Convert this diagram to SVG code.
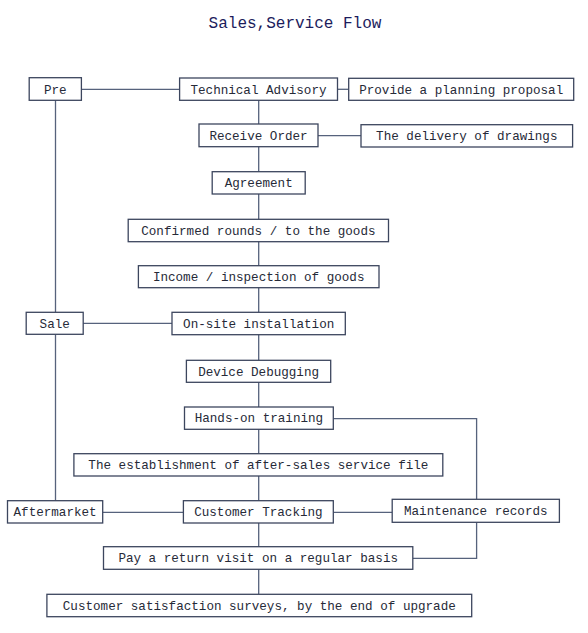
<svg xmlns="http://www.w3.org/2000/svg" width="588" height="633" viewBox="0 0 588 633">
<style>
.box rect{fill:#fff;stroke:#3c465e;stroke-width:1.3}
.box text{font-family:"Liberation Mono","DejaVu Sans Mono",monospace;font-size:12.6px;fill:#262a38;text-anchor:middle}
#connectors line,#connectors polyline{stroke:#56627c;stroke-width:1.3;fill:none}
.title{font-family:"Liberation Mono","DejaVu Sans Mono",monospace;font-size:16px;fill:#1c1c5c;text-anchor:middle}
</style>
<rect width="588" height="633" fill="#fff"/>
<text class="title" x="295" y="28">Sales,Service Flow</text>
<g id="connectors">
<line x1="81" y1="89.3" x2="180" y2="89.3"/>
<line x1="337.5" y1="89.3" x2="348.7" y2="89.3"/>
<line x1="55.5" y1="100" x2="55.5" y2="312.3"/>
<line x1="55.5" y1="334.3" x2="55.5" y2="500.7"/>
<line x1="258.7" y1="100" x2="258.7" y2="594.3"/>
<line x1="318" y1="135.7" x2="361" y2="135.7"/>
<line x1="83" y1="323.3" x2="172" y2="323.3"/>
<polyline points="333.3,418.7 476.6,418.7 476.6,499.3"/>
<line x1="102.7" y1="512.3" x2="183.4" y2="512.3"/>
<line x1="333.3" y1="512.3" x2="392.2" y2="512.3"/>
<polyline points="476.6,522.3 476.6,558.3 412.8,558.3"/>
</g>
<g id="pre" class="box"><rect x="29.2" y="77.7" width="52.2" height="22.6"/><text x="55.3" y="93.5">Pre</text></g>
<g id="technical-advisory" class="box"><rect x="179.6" y="78" width="157.9" height="22.3"/><text x="258.5" y="93.5">Technical Advisory</text></g>
<g id="planning-proposal" class="box"><rect x="348.7" y="78.3" width="225" height="22"/><text x="461.2" y="93.5">Provide a planning proposal</text></g>
<g id="receive-order" class="box"><rect x="199" y="124" width="119" height="22.7"/><text x="258.5" y="139.8">Receive Order</text></g>
<g id="delivery-drawings" class="box"><rect x="361" y="124.7" width="211.6" height="22.3"/><text x="466.8" y="140.2">The delivery of drawings</text></g>
<g id="agreement" class="box"><rect x="212.2" y="171.7" width="93" height="22.3"/><text x="258.7" y="187">Agreement</text></g>
<g id="confirmed-rounds" class="box"><rect x="128.2" y="219.3" width="260.3" height="22.4"/><text x="258.4" y="234.7">Confirmed rounds / to the goods</text></g>
<g id="income-inspection" class="box"><rect x="138.4" y="265.7" width="240.6" height="22"/><text x="258.7" y="281">Income / inspection of goods</text></g>
<g id="sale" class="box"><rect x="26.2" y="312.3" width="57" height="22"/><text x="54.7" y="327.6">Sale</text></g>
<g id="on-site-installation" class="box"><rect x="172" y="312.3" width="173.3" height="22.4"/><text x="258.7" y="327.8">On-site installation</text></g>
<g id="device-debugging" class="box"><rect x="186.4" y="360.3" width="144.3" height="22"/><text x="258.6" y="375.6">Device Debugging</text></g>
<g id="hands-on-training" class="box"><rect x="184.5" y="407" width="148.8" height="22.3"/><text x="258.9" y="422.4">Hands-on training</text></g>
<g id="service-file" class="box"><rect x="73.9" y="453.7" width="368.9" height="22.3"/><text x="258.4" y="469.1">The establishment of after-sales service file</text></g>
<g id="aftermarket" class="box"><rect x="7.5" y="500.7" width="95.2" height="22.3"/><text x="55.1" y="516">Aftermarket</text></g>
<g id="customer-tracking" class="box"><rect x="183.4" y="500.7" width="149.9" height="22.3"/><text x="258.4" y="516">Customer Tracking</text></g>
<g id="maintenance-records" class="box"><rect x="392.2" y="499.3" width="167.2" height="23"/><text x="475.8" y="514.8">Maintenance records</text></g>
<g id="return-visit" class="box"><rect x="103.5" y="546.7" width="309.3" height="22.6"/><text x="258.2" y="562">Pay a return visit on a regular basis</text></g>
<g id="satisfaction-surveys" class="box"><rect x="46.9" y="594.3" width="424.8" height="22.4"/><text x="259.3" y="609.6">Customer satisfaction surveys, by the end of upgrade</text></g>
</svg>
